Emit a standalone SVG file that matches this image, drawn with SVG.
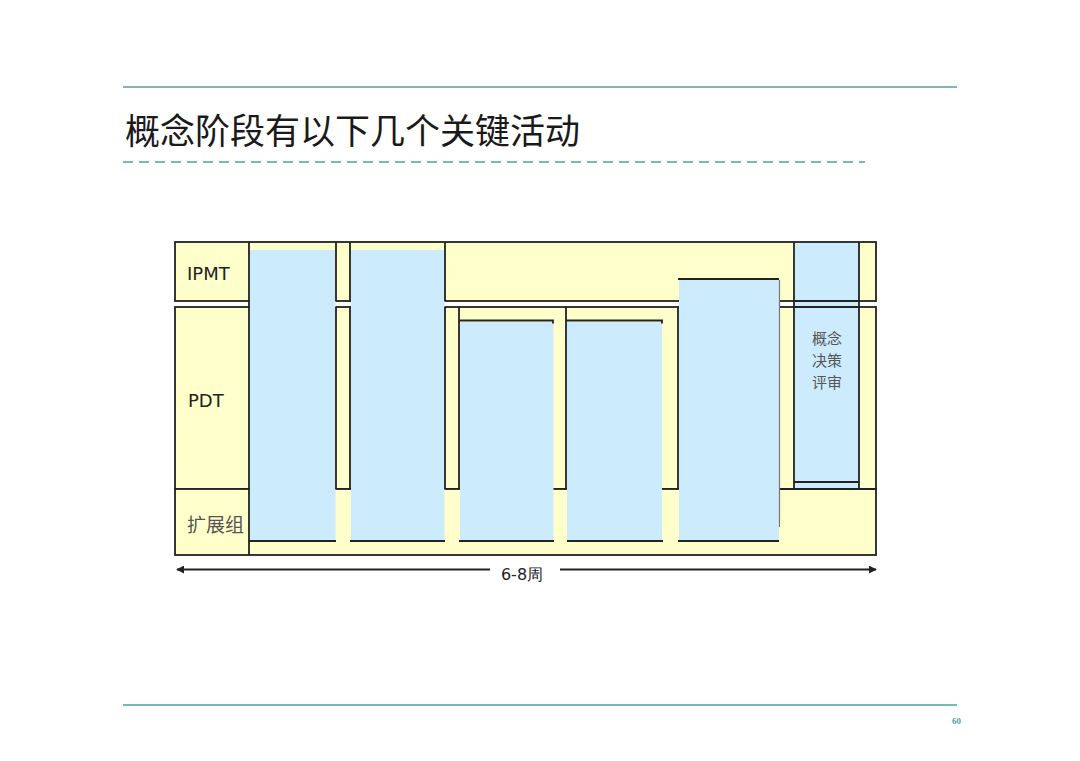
<svg xmlns="http://www.w3.org/2000/svg" width="1080" height="761" viewBox="0 0 1080 761">
  <style>
    .row { fill: #FFFFCC; stroke: #222; stroke-width: 1.8; }
    .blue { fill: #CCEBFC; stroke: none; }
    .ln { stroke: #222; stroke-width: 1.8; fill: none; }
    .gray { stroke: #777; stroke-width: 1.2; fill: none; }
    .teal { stroke: #4E9FA0; stroke-width: 1.6; fill: none; }
    .lbl { font-family: "DejaVu Sans", Verdana, sans-serif; fill: #222; }
    .cjk { font-family: "Noto Sans CJK SC", sans-serif; fill: #555; }
  </style>
  <defs>
    <marker id="ah" viewBox="0 0 10 10" refX="9" refY="5" markerWidth="8" markerHeight="8" markerUnits="userSpaceOnUse" orient="auto-start-reverse">
      <path d="M0,0 L10,5 L0,10 Z" fill="#222"/>
    </marker>
  </defs>
  <rect width="1080" height="761" fill="#fff"/>

  <g id="header">
    <line class="teal" x1="123" y1="87" x2="957" y2="87"/>
    <text x="125" y="144" font-family="Noto Sans CJK SC, sans-serif" font-size="35" fill="#1a1a1a">概念阶段有以下几个关键活动</text>
    <line class="teal" x1="123" y1="162" x2="865" y2="162" stroke-width="2.2" stroke-dasharray="10 6"/>
  </g>

  <g id="rows">
    <rect id="row-ipmt" class="row" x="175" y="242" width="701" height="59"/>
    <rect id="row-pdt" class="row" x="175" y="307" width="701" height="182"/>
    <rect id="row-ext" class="row" x="175" y="489" width="701" height="66"/>
  </g>

  <g id="activities">
    <rect id="act1" class="blue" x="250" y="250" width="85.5" height="290"/>
    <rect id="act2" class="blue" x="351" y="250" width="93.5" height="290"/>
    <rect id="act3" class="blue" x="460" y="322" width="93.5" height="218"/>
    <rect id="act4" class="blue" x="567" y="322" width="95" height="218"/>
    <rect id="act5" class="blue" x="679" y="280" width="100" height="260"/>
    <rect id="act6" class="blue" x="795" y="243" width="64" height="246"/>
  </g>

  <g id="grid">
    <line class="ln" x1="249" y1="242" x2="249" y2="555"/>
    <line class="ln" x1="336" y1="242" x2="336" y2="301"/>
    <line class="ln" x1="350" y1="242" x2="350" y2="301"/>
    <line class="ln" x1="445" y1="242" x2="445" y2="301"/>
    <line class="ln" x1="336" y1="307" x2="336" y2="489"/>
    <line class="ln" x1="350" y1="307" x2="350" y2="489"/>
    <line class="ln" x1="445" y1="307" x2="445" y2="489"/>
    <line class="ln" x1="459" y1="307" x2="459" y2="489"/>
    <line class="ln" x1="566" y1="307" x2="566" y2="489"/>
    <line class="ln" x1="678" y1="307" x2="678" y2="489"/>
    <line class="ln" x1="794" y1="242" x2="794" y2="489"/>
    <line class="ln" x1="859" y1="242" x2="859" y2="489"/>
    <line class="ln" x1="794" y1="301" x2="859" y2="301"/>
    <line class="ln" x1="794" y1="307" x2="859" y2="307"/>
    <line class="ln" x1="794" y1="482" x2="859" y2="482"/>
    <line class="ln" x1="779" y1="489" x2="876" y2="489"/>
    <path class="ln" d="M459,320.5 H553 V323.5"/>
    <path class="ln" d="M566,320.5 H662 V323.5"/>
    <line class="ln" x1="678" y1="279" x2="779" y2="279"/>
    <line class="gray" x1="779.5" y1="280" x2="779.5" y2="527"/>
    <line class="ln" x1="249" y1="541" x2="336" y2="541"/>
    <line class="ln" x1="350" y1="541" x2="445" y2="541"/>
    <line class="ln" x1="459" y1="541" x2="554" y2="541"/>
    <line class="ln" x1="567" y1="541" x2="663" y2="541"/>
    <line class="ln" x1="678" y1="541" x2="779" y2="541"/>
  </g>

  <g id="labels">
    <text class="lbl" x="187" y="280" font-size="18">IPMT</text>
    <text class="lbl" x="188" y="407" font-size="18">PDT</text>
    <text class="cjk" x="187" y="532" font-size="19">扩展组</text>
    <text class="cjk" x="827" y="344" font-size="15" text-anchor="middle">概念</text>
    <text class="cjk" x="827" y="366" font-size="15" text-anchor="middle">决策</text>
    <text class="cjk" x="827" y="388" font-size="15" text-anchor="middle">评审</text>
  </g>

  <g id="connectors">
    <line class="ln" x1="490" y1="569.5" x2="177" y2="569.5" marker-end="url(#ah)"/>
    <line class="ln" x1="560" y1="569.5" x2="876" y2="569.5" marker-end="url(#ah)"/>
    <text class="lbl" x="522" y="580" font-size="16" text-anchor="middle" fill="#333">6-8周</text>
  </g>

  <g id="footer">
    <line class="teal" x1="123" y1="705" x2="957" y2="705"/>
    <text x="961" y="724" font-family="Liberation Serif, serif" font-size="9" font-weight="bold" fill="#4E9FA0" text-anchor="end">60</text>
  </g>
</svg>
